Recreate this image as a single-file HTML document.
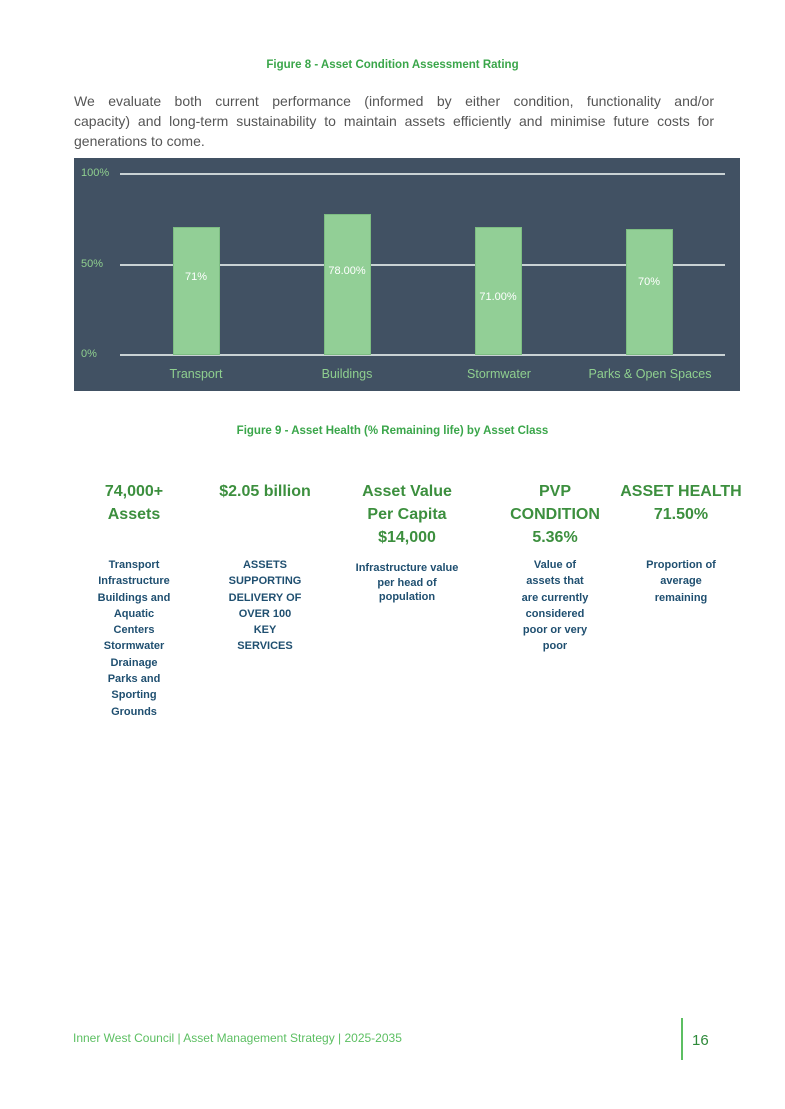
<!DOCTYPE html>
<html><head><meta charset="utf-8"><style>
*{margin:0;padding:0;box-sizing:border-box}
body{width:785px;height:1109px;background:#fff;font-family:"Liberation Sans",sans-serif;position:relative;overflow:hidden}
.a{position:absolute}
.cap{color:#3aa64a;font-size:11.5px;font-weight:bold;width:785px;text-align:center}
.pl{left:74px;width:640px;font-size:14px;line-height:20px;color:#555;text-align:justify;text-align-last:justify}
.chart{left:74px;top:158px;width:666px;height:233px;background:#415163}
.g{position:absolute;left:46px;width:605px;height:2px;background:#c9d2d4}
.yl{position:absolute;left:7px;font-size:11px;color:#8fcf8f}
.bar{position:absolute;width:47px;background:#92cf96;border:1px solid #7dbd82}
.bl{position:absolute;width:80px;text-align:center;color:#fff;font-size:11px}
.xl{position:absolute;width:160px;text-align:center;color:#8fcf8f;font-size:12.5px;top:209px}
.h{color:#3c8f3e;font-size:16px;font-weight:bold;line-height:23px;text-align:center;top:480px}
.s{color:#1f4f70;font-size:11px;font-weight:bold;line-height:16.3px;text-align:center;top:557px}
</style></head><body>
<div class="a cap" style="top:59px">Figure 8 - Asset Condition Assessment Rating</div>
<div class="a pl" style="top:91px">We evaluate both current performance (informed by either condition, functionality and/or</div>
<div class="a pl" style="top:111px">capacity) and long-term sustainability to maintain assets efficiently and minimise future costs for</div>
<div class="a pl" style="top:131px;text-align-last:left">generations to come.</div>
<div class="a chart">
<div class="g" style="top:15px"></div><div class="g" style="top:106px"></div><div class="g" style="top:196px"></div>
<div class="yl" style="top:9px">100%</div><div class="yl" style="top:100px">50%</div><div class="yl" style="top:190px">0%</div>
<div class="bar" style="left:99px;top:69px;height:128px"></div>
<div class="bar" style="left:250px;top:56px;height:141px"></div>
<div class="bar" style="left:401px;top:69px;height:128px"></div>
<div class="bar" style="left:552px;top:71px;height:126px"></div>
<div class="bl" style="left:82px;top:113px">71%</div>
<div class="bl" style="left:233px;top:107px">78.00%</div>
<div class="bl" style="left:384px;top:133px">71.00%</div>
<div class="bl" style="left:535px;top:118px">70%</div>
<div class="xl" style="left:42px">Transport</div>
<div class="xl" style="left:193px">Buildings</div>
<div class="xl" style="left:345px">Stormwater</div>
<div class="xl" style="left:496px">Parks &amp; Open Spaces</div>
</div>
<div class="a cap" style="top:425px">Figure 9 - Asset Health (% Remaining life) by Asset Class</div>
<div class="a h" style="left:84px;width:100px">74,000+<br>Assets</div>
<div class="a h" style="left:200px;width:130px">$2.05 billion</div>
<div class="a h" style="left:347px;width:120px">Asset Value<br>Per Capita<br>$14,000</div>
<div class="a h" style="left:495px;width:120px">PVP<br>CONDITION<br>5.36%</div>
<div class="a h" style="left:611px;width:140px">ASSET HEALTH<br>71.50%</div>
<div class="a s" style="left:89px;width:90px">Transport<br>Infrastructure<br>Buildings and<br>Aquatic<br>Centers<br>Stormwater<br>Drainage<br>Parks and<br>Sporting<br>Grounds</div>
<div class="a s" style="left:215px;width:100px">ASSETS<br>SUPPORTING<br>DELIVERY OF<br>OVER 100<br>KEY<br>SERVICES</div>
<div class="a s" style="left:347px;width:120px;top:561px;line-height:14.5px">Infrastructure value<br>per head of<br>population</div>
<div class="a s" style="left:495px;width:120px">Value of<br>assets that<br>are currently<br>considered<br>poor or very<br>poor</div>
<div class="a s" style="left:621px;width:120px">Proportion of<br>average<br>remaining</div>
<div class="a" style="left:73px;top:1031px;font-size:12px;color:#5cbf62">Inner West Council | Asset Management Strategy | 2025-2035</div>
<div class="a" style="left:681px;top:1018px;width:2px;height:42px;background:#5cbf62"></div>
<div class="a" style="left:692px;top:1032px;font-size:15px;color:#2e8a3a">16</div>
</body></html>
